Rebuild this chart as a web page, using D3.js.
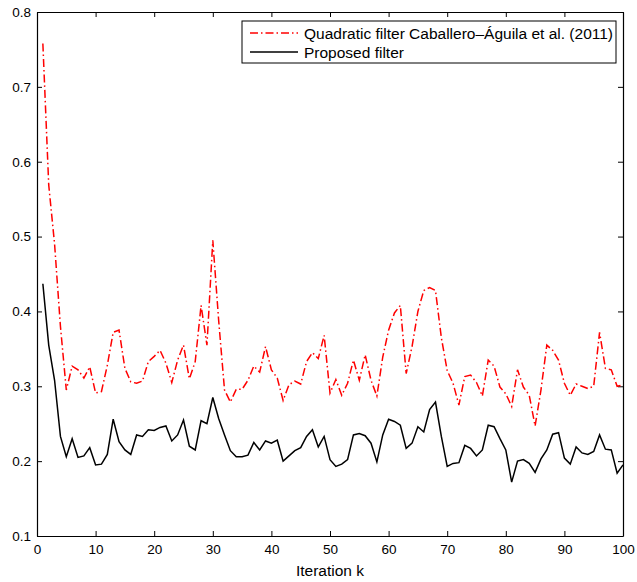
<!DOCTYPE html>
<html>
<head>
<meta charset="utf-8">
<script src="https://cdn.jsdelivr.net/npm/d3@7"></script>
<style>
  body { margin: 0; background: #fff; }
  svg text { font-family: "Liberation Sans", Arial, sans-serif; }
</style>
</head>
<body>
<script>
// iteration index k = 1..100
var iterations = d3.range(1, 101);

var quadratic = [0.758, 0.569, 0.49, 0.38, 0.295, 0.327, 0.322, 0.311, 0.326, 0.291,
  0.293, 0.328, 0.372, 0.375, 0.324, 0.306, 0.304, 0.307, 0.333, 0.34,
  0.348, 0.331, 0.305, 0.335, 0.355, 0.31, 0.333, 0.408, 0.355, 0.495,
  0.388, 0.295, 0.279, 0.296, 0.296, 0.308, 0.327, 0.319, 0.353, 0.322,
  0.311, 0.281, 0.302, 0.307, 0.303, 0.333, 0.345, 0.337, 0.368, 0.291,
  0.309, 0.288, 0.304, 0.335, 0.308, 0.342, 0.308, 0.287, 0.339, 0.375,
  0.398, 0.408, 0.317, 0.353, 0.4, 0.428, 0.432, 0.428, 0.365, 0.321,
  0.304, 0.275, 0.313, 0.315, 0.305, 0.287, 0.335, 0.327, 0.299, 0.29,
  0.273, 0.322, 0.299, 0.288, 0.247, 0.295, 0.355, 0.348, 0.335, 0.304,
  0.288, 0.303, 0.3, 0.297, 0.3, 0.372, 0.324, 0.322, 0.3, 0.302];

var proposed = [0.437, 0.355, 0.308, 0.233, 0.206, 0.23, 0.205, 0.207, 0.218, 0.195,
  0.196, 0.209, 0.256, 0.226, 0.215, 0.209, 0.235, 0.233, 0.242, 0.241,
  0.245, 0.247, 0.227, 0.235, 0.255, 0.22, 0.215, 0.254, 0.25, 0.285,
  0.257, 0.235, 0.214, 0.206, 0.206, 0.208, 0.225, 0.215, 0.227, 0.224,
  0.228, 0.2, 0.207, 0.214, 0.218, 0.233, 0.242, 0.219, 0.233, 0.202,
  0.193, 0.196, 0.202, 0.235, 0.237, 0.234, 0.224, 0.199, 0.235, 0.256,
  0.253, 0.248, 0.217, 0.224, 0.246, 0.239, 0.269, 0.279, 0.233, 0.193,
  0.197, 0.198, 0.221, 0.217, 0.207, 0.215, 0.248, 0.246, 0.23, 0.215,
  0.172, 0.2, 0.202, 0.197, 0.185, 0.203, 0.215, 0.236, 0.238, 0.204,
  0.196, 0.219, 0.211, 0.209, 0.213, 0.235, 0.216, 0.215, 0.184, 0.195];

var xTicks = [0, 10, 20, 30, 40, 50, 60, 70, 80, 90, 100];
var yTicks = [0.1, 0.2, 0.3, 0.4, 0.5, 0.6, 0.7, 0.8];
var seriesNames = ["Quadratic filter Caballero\u2013\u00c1guila et al. (2011)", "Proposed filter"];

var svg = d3.select("body").append("svg")
    .attr("width", 637)
    .attr("height", 582);

var margin = {top: 12, right: 14, bottom: 46, left: 37},
    width = 637 - margin.left - margin.right,
    height = 582 - margin.top - margin.bottom,
    g = svg.append("g").attr("transform", "translate(" + margin.left + "," + margin.top + ")");

var x = d3.scaleLinear().domain([0, 100]).range([0, width]);
var y = d3.scaleLinear().domain([0.1, 0.8]).range([height, 0]);

// axes with inward ticks, MATLAB style box
g.append("g")
    .attr("class", "axis axis--x")
    .attr("transform", "translate(0," + height + ")")
    .call(d3.axisBottom(x).tickValues(xTicks).tickSizeInner(-5).tickSizeOuter(0).tickPadding(8));

g.append("g")
    .attr("class", "axis axis--y")
    .call(d3.axisLeft(y).tickValues(yTicks).tickFormat(d3.format(".1f")).tickSizeInner(-5).tickSizeOuter(0).tickPadding(6));

g.append("g")
    .call(d3.axisTop(x).tickValues(xTicks).tickSizeInner(-5).tickSizeOuter(0).tickFormat(""));

g.append("g")
    .attr("transform", "translate(" + width + ",0)")
    .call(d3.axisRight(y).tickValues(yTicks).tickSizeInner(-5).tickSizeOuter(0).tickFormat(""));

g.selectAll(".domain").attr("stroke", "#000").attr("stroke-width", 1.2);
g.selectAll(".tick line").attr("stroke", "#000");
g.selectAll(".tick text").style("font-size", "13.5px").attr("fill", "#000");

var line = d3.line()
    .x(function(d) { return x(d.k); })
    .y(function(d) { return y(d.v); });

var quadData = iterations.map(function(k, i) { return {k: k, v: quadratic[i]}; });
var propData = iterations.map(function(k, i) { return {k: k, v: proposed[i]}; });

g.append("path")
    .datum(quadData)
    .attr("fill", "none")
    .attr("stroke", "#ff0000")
    .attr("stroke-width", 1.5)
    .attr("stroke-dasharray", "8,3,1.5,3")
    .attr("d", line);

g.append("path")
    .datum(propData)
    .attr("fill", "none")
    .attr("stroke", "#000")
    .attr("stroke-width", 1.5)
    .attr("d", line);

// x label
svg.append("text")
    .attr("x", margin.left + width / 2)
    .attr("y", 576)
    .style("text-anchor", "middle")
    .style("font-size", "15.5px")
    .text("Iteration k");

// legend
var legend = svg.append("g").attr("transform", "translate(242,21)");
legend.append("rect")
    .attr("width", 374)
    .attr("height", 42)
    .attr("fill", "#fff")
    .attr("stroke", "#000")
    .attr("stroke-width", 1);

var styles = [{stroke: "#ff0000", dash: "8,3,1.5,3"}, {stroke: "#000", dash: null}];
seriesNames.forEach(function(name, i) {
  var row = legend.append("g").attr("transform", "translate(0," + (12 + i * 19) + ")");
  row.append("line")
      .attr("x1", 8).attr("x2", 56)
      .attr("y1", 0).attr("y2", 0)
      .attr("stroke", styles[i].stroke)
      .attr("stroke-width", 1.4)
      .attr("stroke-dasharray", styles[i].dash);
  row.append("text")
      .attr("x", 62)
      .attr("y", 5.5)
      .style("font-size", "15.5px")
      .text(name);
});
</script>
</body>
</html>
